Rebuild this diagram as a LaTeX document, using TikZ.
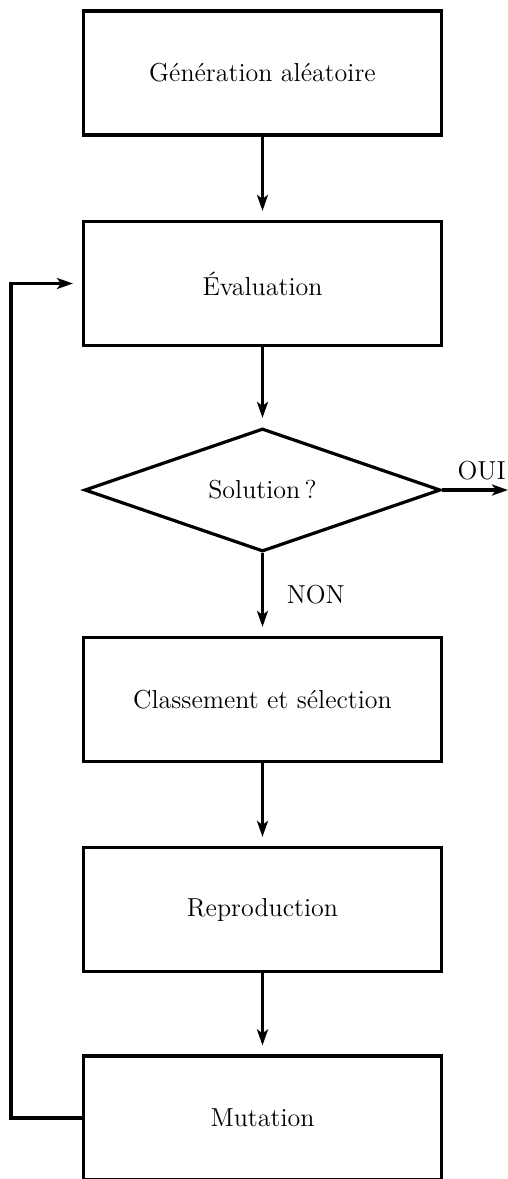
\documentclass[tikz,border=0pt]{standalone}
\usetikzlibrary{arrows.meta,shapes.geometric}
\tikzset{
  etape/.style={draw,line width=1.6pt,rectangle,minimum width=179pt,minimum height=62pt,inner sep=0pt},
  choix/.style={draw,line width=1.6pt,diamond,aspect=2.9,minimum width=178pt,minimum height=61.5pt,inner sep=0pt},
  fl/.style={line width=1.6pt,-{Stealth[length=8pt,width=5.5pt,inset=2pt]}},
}
\begin{document}
\begin{tikzpicture}[x=0.5pt,y=-0.5pt,font=\fontsize{13}{15}\selectfont]
  \useasboundingbox (0,0) rectangle (508,1179);
  % Etapes
  \node[etape] (gen) at (262.5,73) {Génération aléatoire};
  \node[etape] (eval) at (262.5,283.5) {Évaluation};
  \node[choix] (sol) at (262.5,490) {Solution\,?};
  \node[etape] (cls) at (262.5,699.5) {Classement et sélection};
  \node[etape] (rep) at (262.5,909.5) {Reproduction};
  \node[etape] (mut) at (262.5,1118) {Mutation};
  \coordinate (fin) at (508,490);
  % Fleches
  \draw[fl,shorten >=4.5pt] (gen) -- (eval);
  \draw[fl,shorten >=4.5pt] (eval) -- (sol);
  \draw[fl,shorten >=4.5pt] (sol) -- node[right=8pt] {NON} (cls);
  \draw[fl,shorten >=4.5pt] (cls) -- (rep);
  \draw[fl,shorten >=4.5pt] (rep) -- (mut);
  \draw[fl] (sol.east) -- node[pos=0.6,above=1pt] {OUI} (fin);
  % Boucle
  \draw[fl,shorten >=4.5pt] (mut.west) -- ++(-71,0) |- (eval.west);
\end{tikzpicture}
\end{document}
